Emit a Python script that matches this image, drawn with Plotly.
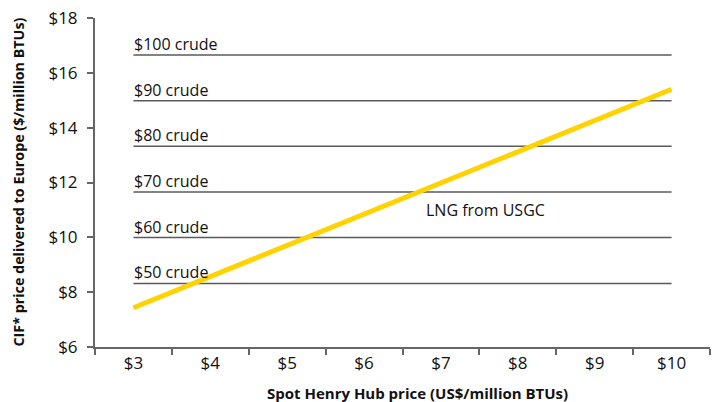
import plotly.graph_objects as go

hh_labels = ["$3", "$4", "$5", "$6", "$7", "$8", "$9", "$10"]
lng_usgc = [7.43, 8.57, 9.71, 10.85, 11.99, 13.13, 14.27, 15.40]
crude_labels = ["$100 crude", "$90 crude", "$80 crude", "$70 crude", "$60 crude", "$50 crude"]
crude_values = [16.65, 14.98, 13.32, 11.65, 9.99, 8.32]
y_ticks = [6, 8, 10, 12, 14, 16, 18]

FONT = "Open Sans"
fig = go.Figure()

for lab, v in zip(crude_labels, crude_values):
    fig.add_trace(go.Scatter(x=[hh_labels[0], hh_labels[-1]], y=[v, v], mode="lines",
                             line=dict(color="#5a5a5a", width=1.5), showlegend=False, hoverinfo="skip"))
    fig.add_annotation(x=0, y=v, xref="x", yref="y", text=lab, showarrow=False,
                       xanchor="left", yanchor="bottom", xshift=-1, yshift=-2,
                       font=dict(family=FONT, size=16, color="#111"))

fig.add_trace(go.Scatter(x=hh_labels, y=lng_usgc, mode="lines",
                         line=dict(color="#FFD200", width=5), showlegend=False))
fig.add_annotation(x=3.78, y=11.0, xref="x", yref="y", text="LNG from USGC", showarrow=False,
                   xanchor="left", yanchor="middle", font=dict(family=FONT, size=16, color="#111"))

# axis titles
fig.add_annotation(x=0.5236, y=-0.1398, xref="paper", yref="paper",
                   text="<b>Spot Henry Hub price (US$/million BTUs)</b>", showarrow=False,
                   xanchor="center", yanchor="middle", font=dict(family=FONT, size=15, color="#111"))
fig.add_annotation(x=-0.1252, y=0.5, xref="paper", yref="paper", textangle=-90,
                   text="<b>CIF* price delivered to Europe ($/million BTUs)</b>", showarrow=False,
                   xanchor="center", yanchor="middle", font=dict(family=FONT, size=14.3, color="#111"))

fig.update_layout(
    width=720, height=402, margin=dict(l=95, r=10, t=18, b=55),
    plot_bgcolor="white", paper_bgcolor="white",
    font=dict(family=FONT, size=17, color="#111"),
)
fig.update_xaxes(type="category", categoryorder="array", categoryarray=hh_labels,
                 range=[-0.5, 7.5], tickson="boundaries", ticks="outside", ticklen=6,
                 tickwidth=1.5, tickcolor="#666", showline=True, linecolor="#666", linewidth=2,
                 showgrid=False, zeroline=False, automargin=False, ticklabeloverflow="allow")
fig.update_yaxes(range=[6, 18], tickvals=y_ticks, ticktext=[f"${t}" for t in y_ticks],
                 ticks="outside", ticklen=6, tickwidth=1.5, tickcolor="#666",
                 showline=True, linecolor="#666", linewidth=2, showgrid=False, zeroline=False,
                 automargin=False, ticklabelstandoff=6, ticklabeloverflow="allow")

fig.write_html("out.html", config={"displayModeBar": False},
               post_script="document.body.style.margin='0';document.body.style.overflow='hidden';")
